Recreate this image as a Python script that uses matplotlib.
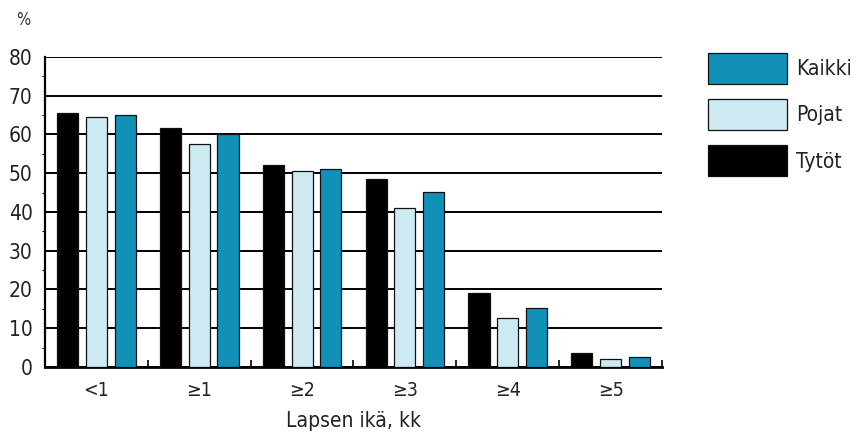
import matplotlib.pyplot as plt
import numpy as np

# Share of children by age (months) - percentages per group
ages = ["<1", "≥1", "≥2", "≥3", "≥4", "≥5"]
tytot = [65.5, 61.7, 52.1, 48.6, 19.0, 3.7]
pojat = [64.6, 57.5, 50.6, 41.1, 12.6, 2.1]
kaikki = [65.1, 60.0, 51.0, 45.2, 15.2, 2.7]
series_names = ["Tytöt", "Pojat", "Kaikki"]

plt.rcParams["font.family"] = ["DejaVu Sans"]
plt.rcParams["font.stretch"] = "condensed"

colors = ["#000000", "#cdeaf3", "#1190b8"]

fig = plt.figure(figsize=(8.58, 4.34), dpi=100)
ax = fig.add_axes([0.0524, 0.1544, 0.7192, 0.7143])

x = np.arange(len(ages))
width = 0.205
step = 0.28
handles = []
for i, (vals, col, name) in enumerate(zip([tytot, pojat, kaikki], colors, series_names)):
    b = ax.bar(x + (i - 1) * step, vals, width, color=col, edgecolor="#111111",
               linewidth=0.9, zorder=3, label=name)
    handles.append(b)

ax.set_xlim(-0.5, 5.5)
ax.set_ylim(0, 80)
ax.set_yticks(range(0, 81, 10))
ax.set_yticks(range(0, 81, 5), minor=True)
ax.yaxis.grid(True, color="black", linewidth=1.4, zorder=0)
ax.set_axisbelow(True)

# group boundary ticks on the x axis
ax.set_xticks(x)
ax.set_xticklabels(ages)
ax.set_xticks(np.arange(-0.5, 6.0, 1.0), minor=True)
ax.tick_params(axis="x", which="major", length=0, pad=10, labelsize=14, colors="#222222")
ax.tick_params(axis="x", which="minor", direction="in", length=5, width=1.2)
ax.tick_params(axis="y", which="major", length=0, pad=9, labelsize=15, colors="#222222")
ax.tick_params(axis="y", which="minor", direction="out", length=2, width=0.8)

for s in ["top", "right"]:
    ax.spines[s].set_visible(False)
ax.spines["left"].set_linewidth(1.6)
ax.spines["bottom"].set_linewidth(2.0)

ax.set_xlabel("Lapsen ikä, kk", fontsize=15, color="#222222", labelpad=8)
fig.text(16 / 858, 1 - 20 / 434, "%", fontsize=12, color="#333333", va="center", ha="left")

leg = fig.legend([handles[2], handles[1], handles[0]], ["Kaikki", "Pojat", "Tytöt"],
                 loc="upper left", bbox_to_anchor=(689 / 858, 1 - 34 / 434),
                 frameon=False, fontsize=15, handlelength=3.8, handleheight=1.93,
                 labelspacing=0.72, handletextpad=0.45)
for t in leg.get_texts():
    t.set_color("#222222")

fig.savefig("out.png", dpi=100)
